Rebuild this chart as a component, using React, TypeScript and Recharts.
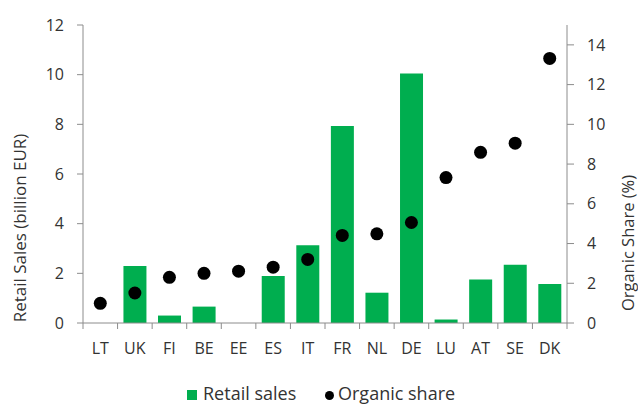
import { Bar, ComposedChart, Legend, Line, XAxis, YAxis } from "recharts";

const countries = ["LT", "UK", "FI", "BE", "EE", "ES", "IT", "FR", "NL", "DE", "LU", "AT", "SE", "DK"];
const retailSales = [0, 2.3, 0.3, 0.66, 0, 1.89, 3.13, 7.93, 1.22, 10.05, 0.14, 1.75, 2.35, 1.57];
const organicShare = [0.99, 1.51, 2.3, 2.5, 2.61, 2.81, 3.2, 4.41, 4.49, 5.06, 7.32, 8.59, 9.05, 13.32];
const leftTicks = [0, 2, 4, 6, 8, 10, 12];
const rightTicks = [0, 2, 4, 6, 8, 10, 12, 14];

const GREEN = "#00ae4f";
const TEXT = "#333333";
const AXIS = "#8c8c8c";
const FONT = "'Open Sans', Lato, sans-serif";

const data = countries.map((c, i) => ({ country: c, sales: retailSales[i], share: organicShare[i] }));

const W = 638;
const H = 405;
const PLOT_LEFT = 83;
const PLOT_RIGHT = 567;
const BAND = (PLOT_RIGHT - PLOT_LEFT) / countries.length;

// category label + tick marks on the band edges
function CountryTick(props: any) {
  const { x, y, payload, index } = props;
  const left = x - BAND / 2;
  return (
    <g>
      <line x1={left} y1={y} x2={left} y2={y + 6} stroke={AXIS} strokeWidth={1} />
      {index === countries.length - 1 && (
        <line x1={x + BAND / 2} y1={y} x2={x + BAND / 2} y2={y + 6} stroke={AXIS} strokeWidth={1} />
      )}
      <text x={x} y={y + 31} textAnchor="middle" fill={TEXT} fontSize={16} fontFamily={FONT}>
        {payload.value}
      </text>
    </g>
  );
}

function LegendBox() {
  return (
    <div style={{ position: "relative", width: W, height: 32, fontFamily: FONT, fontSize: 18, color: TEXT }}>
      <div style={{ position: "absolute", left: 187, top: 17, width: 10, height: 10, background: GREEN }} />
      <div style={{ position: "absolute", left: 203, top: 8, lineHeight: "24px", whiteSpace: "nowrap" }}>Retail sales</div>
      <div style={{ position: "absolute", left: 325, top: 18, width: 9, height: 9, borderRadius: 5, background: "#000" }} />
      <div style={{ position: "absolute", left: 338, top: 8, lineHeight: "24px", whiteSpace: "nowrap" }}>Organic share</div>
    </div>
  );
}

export default function App() {
  return (
    <div style={{ width: W, height: H, background: "#fff", overflow: "hidden" }}>
      <style>{`body { margin: 0; }`}</style>
      <ComposedChart
        width={W}
        height={H}
        data={data}
        margin={{ top: 25, right: 0, bottom: 0, left: 0 }}
        barCategoryGap="17%"
      >
        <XAxis
          dataKey="country"
          height={50}
          stroke={AXIS}
          tickLine={false}
          tickSize={0}
          tickMargin={0}
          tick={<CountryTick />}
          interval={0}
        />
        <YAxis
          yAxisId="left"
          domain={[0, 12]}
          ticks={leftTicks}
          width={83}
          stroke={AXIS}
          tickSize={6}
          tickMargin={13}
          tick={{ fill: TEXT, fontSize: 16, fontFamily: FONT }}
          label={{
            content: (p: any) => (
              <text
                transform={`translate(19, ${p.viewBox.y + p.viewBox.height / 2 + 54}) rotate(-90)`}
                textAnchor="middle"
                dominantBaseline="central"
                fill={TEXT}
                fontSize={17}
                fontFamily={FONT}
              >
                Retail Sales (billion EUR)
              </text>
            ),
          }}
        />
        <YAxis
          yAxisId="right"
          orientation="right"
          domain={[0, 15]}
          ticks={rightTicks}
          width={W - PLOT_RIGHT}
          stroke={AXIS}
          tickSize={7}
          tickMargin={13}
          tick={{ fill: TEXT, fontSize: 16, fontFamily: FONT }}
          label={{
            content: (p: any) => (
              <text
                transform={`translate(627, ${p.viewBox.y + p.viewBox.height / 2 + 69}) rotate(-90)`}
                textAnchor="middle"
                dominantBaseline="central"
                fill={TEXT}
                fontSize={16.5}
                fontFamily={FONT}
              >
                Organic Share (%)
              </text>
            ),
          }}
        />
        <Legend verticalAlign="bottom" wrapperStyle={{ left: 0, width: W }} content={<LegendBox />} />
        <Bar yAxisId="left" dataKey="sales" name="Retail sales" fill={GREEN} isAnimationActive={false} />
        <Line
          yAxisId="right"
          dataKey="share"
          name="Organic share"
          stroke="none"
          dot={{ r: 6.5, fill: "#000", stroke: "none" }}
          activeDot={false}
          isAnimationActive={false}
        />
      </ComposedChart>
    </div>
  );
}
